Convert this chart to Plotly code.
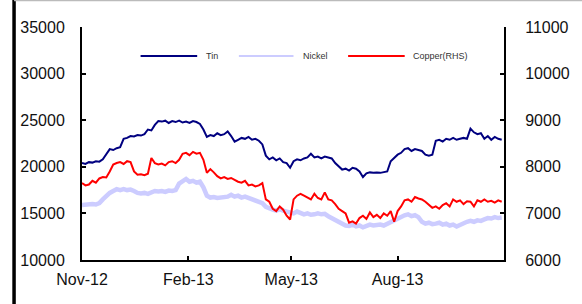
import pandas as pd
import plotly.graph_objects as go

# x categories: sample dates (every 3 days)
dates = pd.date_range("2012-11-01", periods=122, freq="3D")

tin = [20400, 20300, 20500, 20450, 20600, 20550, 20800, 21300, 21900, 21800,
       22000, 22100, 23000, 23100, 23300, 23250, 23400, 23350, 23500, 24000,
       23900, 24500, 24900, 24850, 24950, 24700, 24900, 24800, 24950, 24750,
       24850, 24700, 24900, 24800, 24600, 24000, 23200, 23400, 23300, 23600,
       23400, 23500, 23800, 23300, 22700, 22900, 23100, 23000, 23200, 22900,
       23000, 22800, 22400, 21200, 20800, 21000, 20700, 20900, 20500, 20400,
       19900, 20600, 20800, 20700, 20900, 21000, 21400, 21000, 21100, 20900,
       21100, 21000, 20900, 20400, 20000, 19700, 19800, 19600, 19900, 19800,
       19500, 18900, 19300, 19400, 19350, 19400, 19350, 19400, 19500, 20600,
       21000, 21300, 21500, 21900, 22000, 21700, 21900, 21800, 21700, 21300,
       21200, 21300, 22800, 22900, 22700, 23000, 22900, 23100, 22900, 23000,
       23100, 23000, 24100, 23700, 23500, 23600, 23000, 23300, 22900, 23200,
       23000, 22900]

nickel = [15900, 15950, 15900, 16000, 15950, 16100, 16500, 16900, 17200, 17400,
          17600, 17500, 17600, 17500, 17550, 17400, 17200, 17150, 17200, 17100,
          17300, 17400, 17350, 17400, 17300, 17450, 17400, 17500, 18200, 18500,
          18700, 18400, 18500, 18300, 18400, 17800, 16900, 16700, 16750, 16650,
          16700, 16650, 16800, 17000, 16800, 16900, 16700, 16800, 16650, 16500,
          16300, 16200, 16100, 15700, 15500, 15400, 15300, 15450, 15300, 15200,
          15100, 15000, 15200, 15100, 14900, 15000, 14850, 14900, 15000, 14900,
          14950, 14700, 14500, 14400, 14200, 14000, 13700, 13650, 13800, 13600,
          13700, 13500, 13650, 13800, 13700, 13750, 13800, 13700, 13900, 14000,
          14200, 14400, 14600, 14800, 14900, 14700, 14800, 14600, 14100, 13900,
          14000, 13850, 13900, 14000, 13800, 13900, 13700, 13800, 13600, 13800,
          13900, 14100, 14200, 14100, 14250, 14200, 14350, 14500, 14450, 14600,
          14500, 14550]

copper = [7650, 7600, 7620, 7700, 7660, 7750, 7780, 7770, 7900, 8050,
          8080, 8100, 8060, 8120, 8100, 7900, 7830, 7840, 7820, 7850,
          8190, 8080, 8050, 8070, 8030, 8100, 8120, 8080, 8150, 8280,
          8300, 8250, 8320, 8280, 8300, 8150, 7870, 7950, 7880, 7800,
          7750, 7780, 7740, 7760, 7720, 7680, 7660, 7700, 7600, 7620,
          7580, 7600, 7650, 7300, 7250, 7100, 7050, 7150, 7080, 6950,
          6870, 7300, 7380, 7420, 7380, 7340, 7300, 7420, 7330, 7300,
          7450, 7300, 7280, 7200, 7100, 7050, 7000, 6800, 6830, 6780,
          6900, 6950, 6880, 7020, 6920, 6970, 6900, 7000, 6950, 7050,
          6820, 7050, 7150, 7280, 7300, 7250, 7350, 7320, 7300, 7250,
          7180, 7120, 7150, 7100, 7180, 7220, 7150, 7300, 7250, 7280,
          7200, 7260, 7250, 7150, 7280, 7250, 7300, 7250, 7270, 7230,
          7280, 7250]

tick_dates = ["2012-11-01", "2013-02-01", "2013-05-01", "2013-08-01"]
tick_labels = ["Nov-12", "Feb-13", "May-13", "Aug-13"]
series_names = ["Tin", "Nickel", "Copper(RHS)"]
series_colors = ["#000080", "#CCCCFF", "#FF0000"]

FONT = "Liberation Sans, Arial, sans-serif"

fig = go.Figure()
fig.add_trace(go.Scatter(x=dates, y=nickel, mode="lines", name=series_names[1],
                         line=dict(color=series_colors[1], width=4.5)))
fig.add_trace(go.Scatter(x=dates, y=copper, mode="lines", name=series_names[2],
                         yaxis="y2", line=dict(color=series_colors[2], width=2)))
fig.add_trace(go.Scatter(x=dates, y=tin, mode="lines", name=series_names[0],
                         line=dict(color=series_colors[0], width=2)))

axis_common = dict(showgrid=False, zeroline=False, showline=True, linecolor="black",
                   linewidth=2, ticks="inside", ticklen=4, tickwidth=1.5,
                   tickcolor="black", tickfont=dict(family=FONT, size=16, color="#111"))

fig.update_layout(
    width=582, height=304,
    margin=dict(l=82, r=75, t=27, b=44),
    paper_bgcolor="white", plot_bgcolor="white",
    showlegend=False,
    xaxis=dict(type="date", range=["2012-11-01", "2013-11-01"],
               tickvals=tick_dates, ticktext=tick_labels,
               ticklabeloverflow="allow", ticklabelstandoff=4, **axis_common),
    yaxis=dict(range=[10000, 35000], dtick=5000, tickformat="d",
               ticklabelstandoff=12, **axis_common),
    yaxis2=dict(range=[6000, 11000], dtick=1000, tickformat="d", overlaying="y",
                side="right", anchor="x", ticklabelstandoff=16, **axis_common),
)

# frame lines of the picture
fig.add_shape(type="line", xref="paper", yref="paper", x0=-0.161, x1=-0.161,
              y0=-0.2, y1=1.12, line=dict(color="black", width=3.5))
fig.add_shape(type="line", xref="paper", yref="paper", x0=-0.161, x1=1.2,
              y0=1.114, y1=1.114, line=dict(color="#bbbbbb", width=1.5))

# legend drawn manually (long sample lines)
def px_x(p):
    return (p - 82) / 425.0

def px_y(p):
    return (260 - p) / 233.0

legend_pos = [(141, 198, 205), (240, 295, 303), (350, 407, 413)]
ly = px_y(56)
for name, color, (a, b, t) in zip(series_names, series_colors, legend_pos):
    fig.add_shape(type="line", xref="paper", yref="paper", x0=px_x(a), x1=px_x(b),
                  y0=ly, y1=ly, line=dict(color=color, width=2))
    fig.add_annotation(xref="paper", yref="paper", x=px_x(t), y=ly, text=name,
                       showarrow=False, xanchor="left", yanchor="middle",
                       font=dict(family=FONT, size=9, color="#333"))

fig.write_html("out.html", config={"displayModeBar": False},
               post_script="document.body.style.margin='0';document.body.style.overflow='hidden';")
